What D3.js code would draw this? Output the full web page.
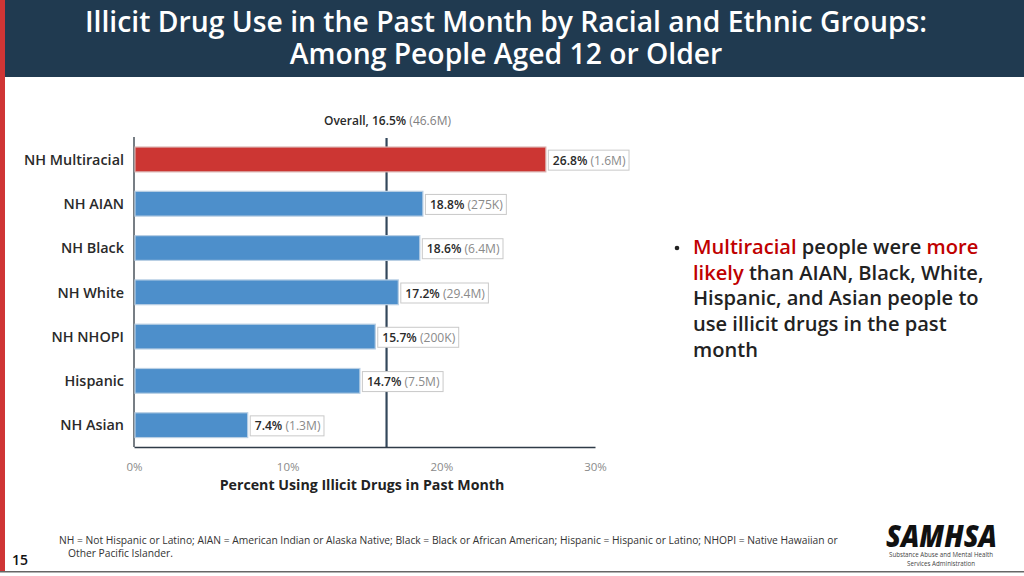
<!DOCTYPE html>
<html><head><meta charset="utf-8">
<script src="https://cdn.jsdelivr.net/npm/d3@7"></script>
<style>html,body{margin:0;padding:0;background:#fff;width:1024px;height:576px;overflow:hidden}svg{display:block}text{font-family:"Open Sans","Noto Sans",sans-serif}</style>
</head><body><svg id="c" width="1024" height="576"></svg>
<script>
const categories=["NH Multiracial","NH AIAN","NH Black","NH White","NH NHOPI","Hispanic","NH Asian"];
const percentValues=[26.8,18.8,18.6,17.2,15.7,14.7,7.4];
const countLabels=["1.6M","275K","6.4M","29.4M","200K","7.5M","1.3M"];
const highlightCategories=["NH Multiracial"];
const overallValue=16.5;
const overallCount="46.6M";
const xTicks=[0,10,20,30];
const titleLines=["Illicit Drug Use in the Past Month by Racial and Ethnic Groups:","Among People Aged 12 or Older"];
const bulletLines=[
 [["Multiracial",1],[" people were ",0],["more",1]],
 [["likely",1],[" than AIAN, Black, White,",0]],
 [["Hispanic, and Asian people to",0]],
 [["use illicit drugs in the past",0]],
 [["month",0]]];
const footnoteLines=["NH = Not Hispanic or Latino; AIAN = American Indian or Alaska Native; Black = Black or African American; Hispanic = Hispanic or Latino; NHOPI = Native Hawaiian or","Other Pacific Islander."];

const svg=d3.select("#c");
svg.append("rect").attr("x",0).attr("y",0).attr("width",1024).attr("height",77).attr("fill","#203a50");
svg.append("rect").attr("x",0).attr("y",0).attr("width",5).attr("height",572).attr("fill","#cf3535");
svg.append("rect").attr("x",0).attr("y",571).attr("width",1024).attr("height",1.5).attr("fill","#666");
svg.selectAll(".title").data(titleLines).join("text").attr("class","title")
 .attr("x",506).attr("y",(d,i)=>31.5+i*32).attr("text-anchor","middle").attr("fill","#fff")
 .attr("font-size",28.3).attr("font-weight",600).text(d=>d);

const x=d3.scaleLinear().domain([0,30]).range([134,595]);
const y=d3.scaleBand().domain(categories).range([137,447]).paddingInner(0.44).paddingOuter(0.22);
const bh=y.bandwidth();
const dark="#2f3b47";

svg.append("line").attr("x1",x(overallValue)-1).attr("x2",x(overallValue)-1).attr("y1",138).attr("y2",447)
 .attr("stroke","#33475b").attr("stroke-width",2.2);
const xAxis=svg.append("g").attr("transform","translate(0,447)")
 .call(d3.axisBottom(x).tickValues(xTicks).tickSize(0).tickPadding(16).tickFormat(d=>d+"%"));
xAxis.select(".domain").attr("stroke",dark).attr("stroke-width",1.6);
xAxis.selectAll("text").attr("font-size",11.5).attr("fill","#8a8a8a");
const yAxis=svg.append("g").attr("transform","translate(134,1)")
 .call(d3.axisLeft(y).tickSize(0).tickPadding(10));
yAxis.select(".domain").remove();
svg.append("line").attr("x1",134).attr("x2",134).attr("y1",137).attr("y2",447).attr("stroke","#555e66").attr("stroke-width",1.6);
yAxis.selectAll("text").attr("font-size",14.4).attr("font-weight",600).attr("fill","#2a2a2a");

svg.selectAll(".bar").data(categories).join("rect").attr("class","bar")
 .attr("x",x(0)+1).attr("y",d=>y(d)+0.3).attr("height",bh)
 .attr("width",(d,i)=>x(percentValues[i])-x(0)-1)
 .attr("fill",d=>highlightCategories.includes(d)?"#cc3633":"#4d8fcb")
 .attr("stroke",d=>highlightCategories.includes(d)?"#d9b0ae":"#b9cfe4").attr("stroke-width",1.2);

const lab=svg.selectAll(".lab").data(categories).join("g").attr("class","lab")
 .attr("transform",(d,i)=>`translate(${x(percentValues[i])+2.5},${y(d)+bh/2+1})`);
lab.append("rect").attr("y",-10).attr("height",20).attr("fill","#fff").attr("stroke","#c9c9c9").attr("stroke-width",1);
const txt=lab.append("text").attr("x",4.5).attr("y",4.5).attr("font-size",12.1);
txt.append("tspan").attr("font-weight",600).attr("fill","#2a2a2a").text((d,i)=>percentValues[i].toFixed(1)+"%");
txt.append("tspan").attr("fill","#8a8a8a").text((d,i)=>" ("+countLabels[i]+")");
txt.each(function(){const w=this.getComputedTextLength();d3.select(this.parentNode).select("rect").attr("width",w+8);});

const ov=svg.append("text").attr("x",387.5).attr("y",124.5).attr("text-anchor","middle").attr("font-size",12);
ov.append("tspan").attr("font-weight",600).attr("fill","#2a2a2a").text("Overall, "+overallValue.toFixed(1)+"%");
ov.append("tspan").attr("fill","#7f7f7f").text(" ("+overallCount+")");

svg.append("text").attr("x",362).attr("y",490).attr("text-anchor","middle").attr("font-size",14.2).attr("font-weight",700).attr("fill","#222").text("Percent Using Illicit Drugs in Past Month");

svg.append("circle").attr("cx",677).attr("cy",248).attr("r",2.3).attr("fill","#222");
const bl=svg.selectAll(".bl").data(bulletLines).join("text").attr("class","bl")
 .attr("x",693).attr("y",(d,i)=>254+i*25.7).attr("font-size",20.1).attr("font-weight",600);
bl.selectAll("tspan").data(d=>d).join("tspan").style("white-space","pre")
 .attr("fill",d=>d[1]?"#c00000":"#222").text(d=>d[0]);

svg.selectAll(".fn").data(footnoteLines).join("text").attr("class","fn")
 .attr("x",(d,i)=>i?68:59).attr("y",(d,i)=>544+i*13).attr("font-size",10.28).attr("fill","#333").text(d=>d);
svg.append("text").attr("x",12).attr("y",565).attr("font-size",14).attr("font-weight",600).attr("fill","#111").text("15");

svg.append("text").attr("x",886).attr("y",547).attr("font-size",30).attr("font-weight",800).attr("font-style","italic").attr("fill","#111")
 .attr("textLength",111).attr("lengthAdjust","spacingAndGlyphs").text("SAMHSA");
svg.append("text").attr("x",889).attr("y",556.5).attr("font-size",7.4).attr("fill","#444").attr("textLength",104).attr("lengthAdjust","spacingAndGlyphs").text("Substance Abuse and Mental Health");
svg.append("text").attr("x",907).attr("y",565.5).attr("font-size",7.4).attr("fill","#444").attr("textLength",68).attr("lengthAdjust","spacingAndGlyphs").text("Services Administration");
</script></body></html>
